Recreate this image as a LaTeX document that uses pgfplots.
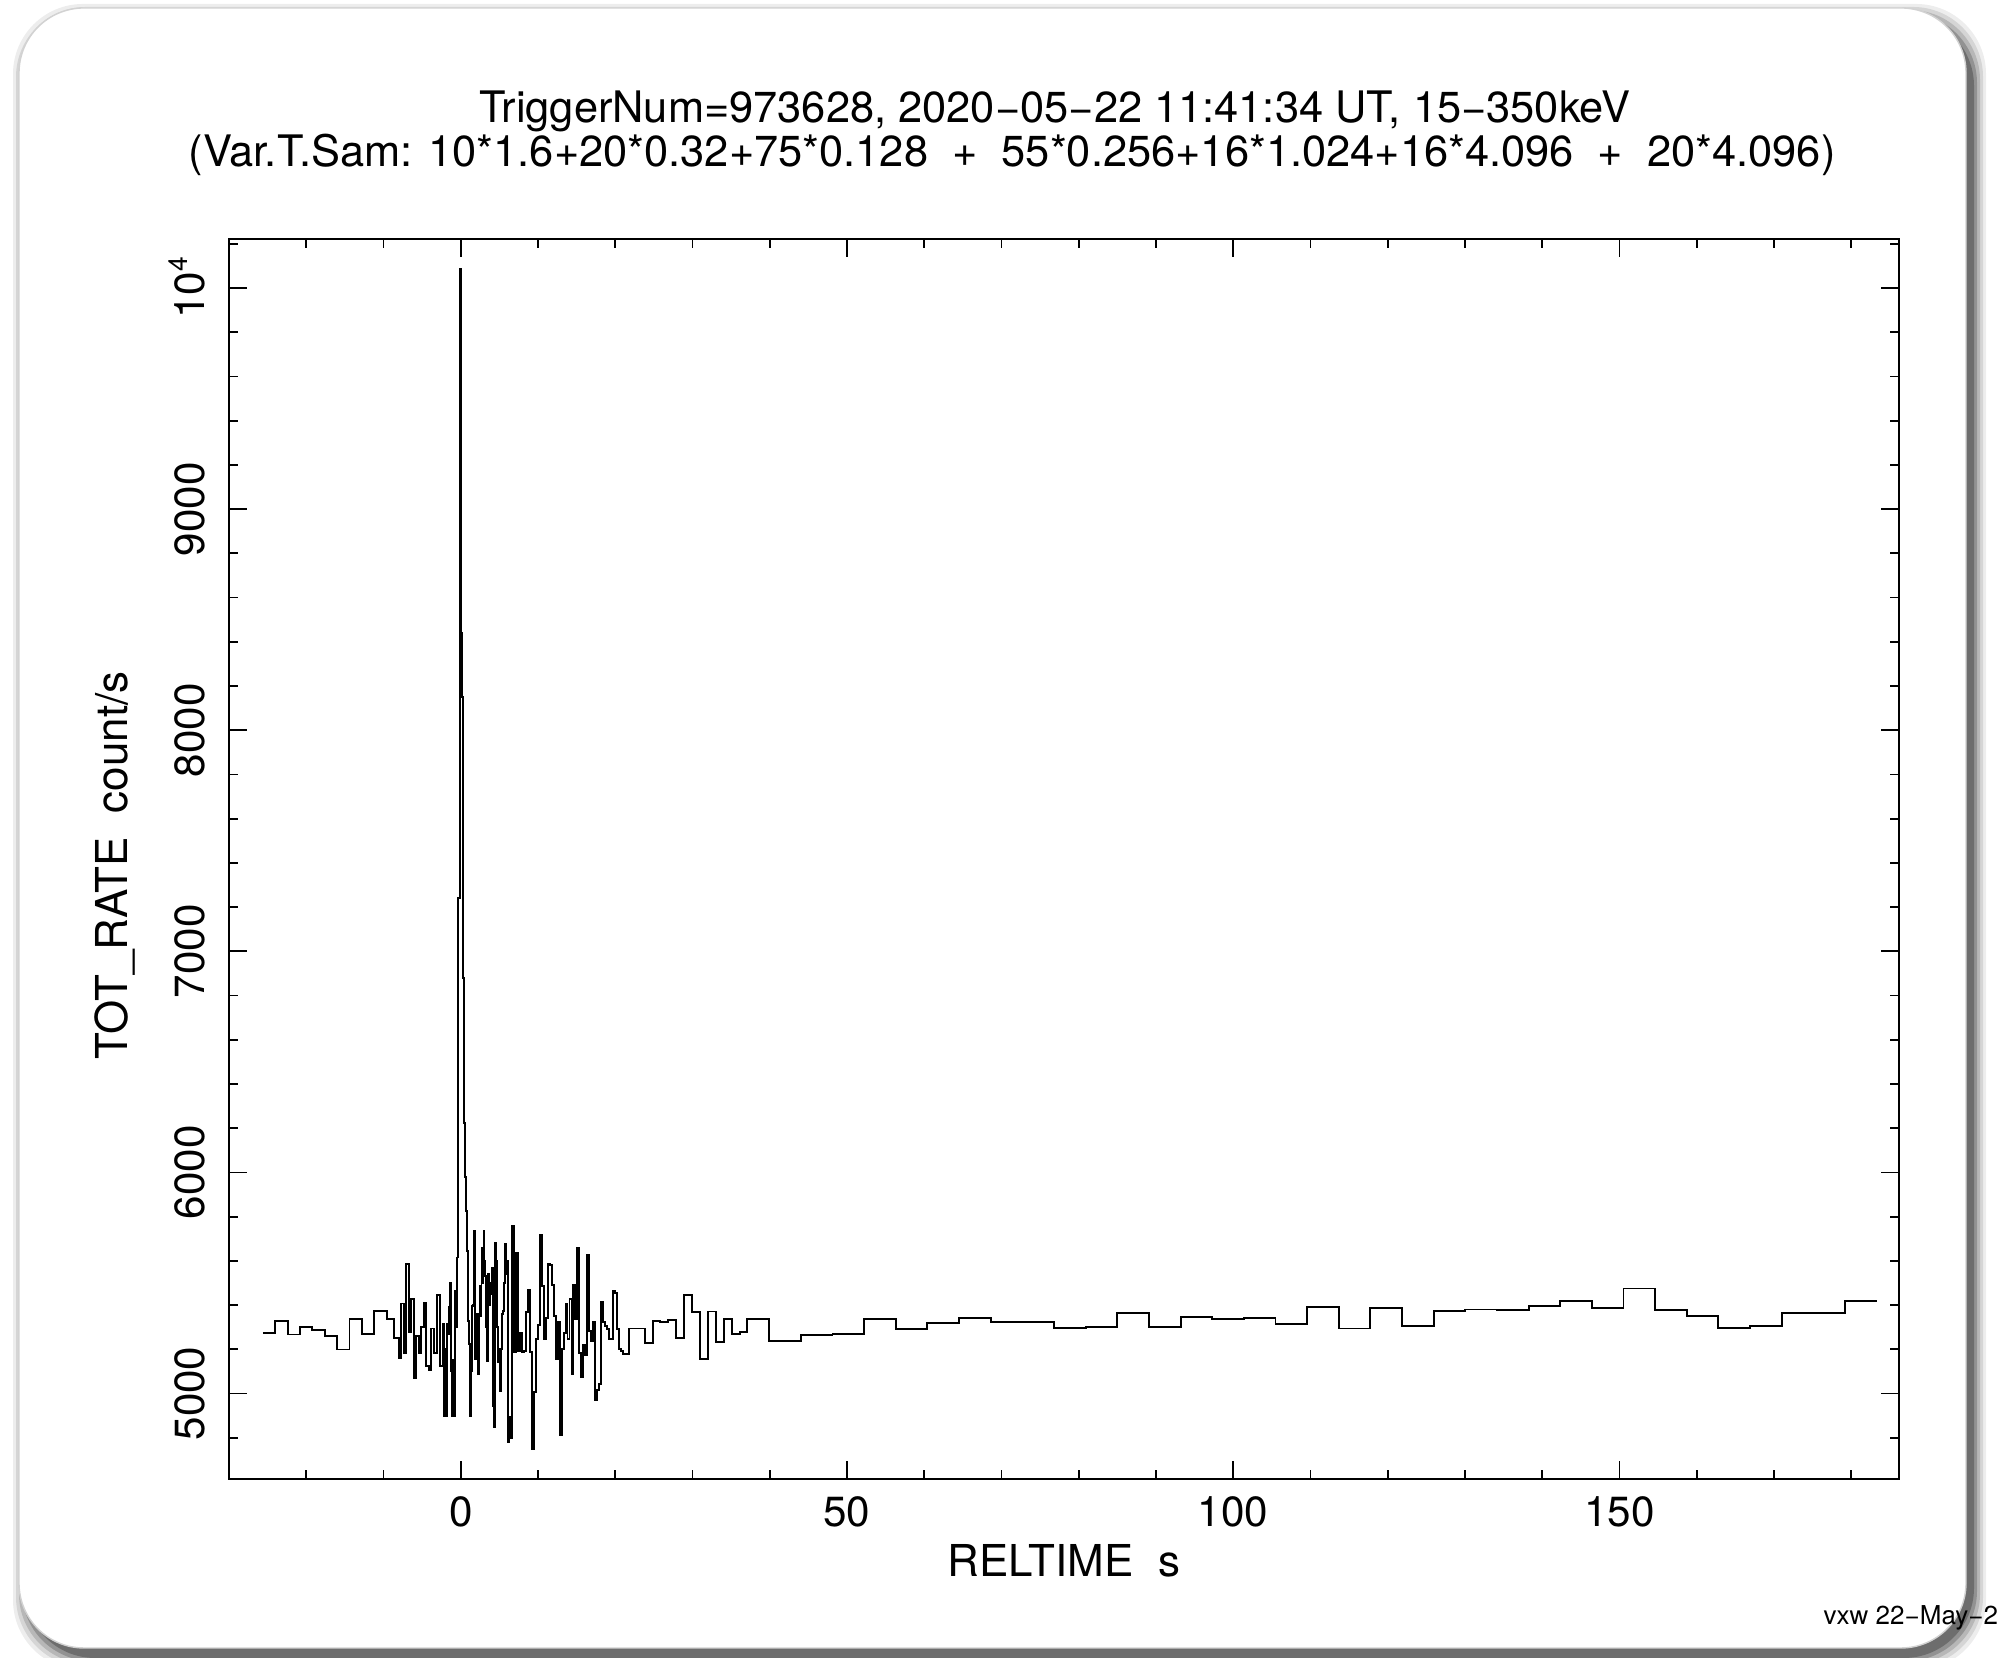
\documentclass[border=0pt]{standalone}
\usepackage{fontspec}
\setmainfont{TeX Gyre Heros}
\usepackage{pgfplots}
\pgfplotsset{compat=1.18}
\begin{document}
\begin{tikzpicture}
\path[use as bounding box] (0,0) rectangle (19.97cm,16.58cm);
% frame with soft shadow
\foreach \i/\op in {0.12/0.07,0.09/0.10,0.06/0.14,0.03/0.20,0.0/0.25}{
  \fill[black,opacity=\op,rounded corners=0.7cm] ({0.25cm-\i cm},{0.0cm-\i cm}) rectangle ({19.74cm+\i cm},{16.42cm+\i cm});
}
\filldraw[fill=white,draw=gray!35,line width=0.4pt,rounded corners=0.65cm] (0.19cm,0.10cm) rectangle (19.66cm,16.50cm);
\begin{axis}[
  at={(2.29cm,1.787cm)}, anchor=south west,
  width=16.70cm, height=12.403cm, scale only axis,
  xmin=-30, xmax=186.2, ymin=4612, ymax=10222,
  scaled x ticks=false, scaled y ticks=false,
  xtick={0,50,100,150}, xticklabels={0,50,100,150},
  minor xtick={-30,-20,...,180},
  ytick={5000,6000,7000,8000,9000,10000},
  yticklabels={5000,6000,7000,8000,9000,10\raisebox{0.42em}{\fontsize{7.5}{8}\selectfont 4}},
  minor ytick={4800,5000,...,10200},
  major tick length=0.18cm, minor tick length=0.092cm,
  tick align=inside,
  tick style={black,line width=0.5pt},
  axis line style={black,line width=0.6pt},
  xticklabel style={anchor=north,inner sep=0pt,yshift=-0.17cm,font=\fontsize{12}{14}\selectfont},
  yticklabel style={rotate=90,anchor=base,inner sep=0pt,yshift=0.24cm,font=\fontsize{12}{14}\selectfont},
  xlabel={RELTIME\ \ s},
  ylabel={TOT\_RATE\ \ count/s},
  xlabel style={at={(axis description cs:0.5,0)},anchor=base,yshift=-0.977cm,inner sep=0pt,font=\fontsize{12.5}{14}\selectfont},
  ylabel style={at={(axis description cs:0,0.495)},anchor=base,yshift=1.01cm,inner sep=0pt,font=\fontsize{12.5}{14}\selectfont},
]
\addplot[const plot, black, line width=0.55pt, line join=miter] coordinates {
(-25.6,5274) (-24.0,5327) (-22.4,5267) (-20.8,5299) (-19.2,5287) (-17.6,5262) (-16.0,5199) (-14.4,5335) (-12.8,5270) (-11.2,5374)
(-9.6,5338) (-9.28,5338) (-8.96,5338) (-8.64,5250) (-8.32,5250) (-8.0,5161) (-7.68,5407) (-7.36,5184) (-7.04,5585) (-6.72,5279)
(-6.4,5428) (-6.08,5071) (-5.76,5261) (-5.44,5181) (-5.12,5300) (-4.8,5410) (-4.48,5124) (-4.16,5104) (-3.84,5294) (-3.52,5181)
(-3.2,5183) (-3.072,5447) (-2.944,5447) (-2.816,5447) (-2.688,5126) (-2.56,5126) (-2.432,5126) (-2.304,5314) (-2.176,4900) (-2.048,5200)
(-1.92,4900) (-1.792,5314) (-1.664,5269) (-1.536,5393) (-1.408,5502) (-1.28,5100) (-1.152,4900) (-1.024,5150) (-0.896,4900) (-0.768,5465)
(-0.64,5300) (-0.512,5615) (-0.384,7240) (-0.256,7240) (-0.128,10085) (0,8440) (0.128,8150) (0.256,6880) (0.384,6225) (0.512,5980)
(0.64,5826) (0.768,5645) (0.896,5330) (1.024,5224) (1.152,4900) (1.28,5100) (1.408,5397) (1.536,5400) (1.664,5736) (1.792,5156)
(1.92,5359) (2.048,5359) (2.176,5088) (2.304,5088) (2.432,5487) (2.56,5350) (2.688,5660) (2.816,5500) (2.944,5736) (3.072,5600)
(3.2,5532) (3.328,5300) (3.456,5148) (3.584,5540) (3.712,5400) (3.84,5502) (3.968,5450) (4.096,5570) (4.224,4945) (4.352,4847)
(4.48,5683) (4.608,5600) (4.736,5300) (4.864,5141) (4.992,5200) (5.12,5013) (5.248,5200) (5.376,5359) (5.504,5374) (5.632,5500)
(5.76,5675) (5.888,5540) (6.016,5600) (6.144,4780) (6.272,4893)
(6.4,4800) (6.656,5758) (6.912,5186) (7.168,5635) (7.424,5194) (7.68,5273) (7.936,5189) (8.192,5194) (8.448,5367) (8.704,5468)
(8.96,5186) (9.216,4750) (9.472,5005) (9.728,5246) (9.984,5311) (10.24,5716) (10.496,5487) (10.752,5246) (11.008,5340) (11.264,5588)
(11.52,5580) (11.776,5490) (12.032,5352) (12.288,5156) (12.544,5322) (12.8,4810) (13.056,5201) (13.312,5273) (13.568,5404) (13.824,5246)
(14.08,5427) (14.336,5088) (14.592,5490) (14.848,5337) (15.104,5657) (15.36,5183) (15.616,5073) (15.872,5221) (16.128,5174) (16.384,5626)
(16.64,5281) (16.896,5239) (17.152,5322) (17.408,4972) (17.664,5016) (17.92,5043) (18.176,5416) (18.432,5322) (18.688,5307) (18.944,5292)
(19.2,5246) (19.456,5246) (19.712,5462) (19.968,5454) (20.224,5292) (20.48,5201) (20.736,5194) (20.992,5179) (21.248,5179) (21.504,5179)
(21.76,5294) (22.784,5294) (23.808,5228) (24.832,5328) (25.856,5322) (26.88,5332) (27.904,5249) (28.928,5444) (29.952,5367) (30.976,5156)
(32.0,5371) (33.024,5231) (34.048,5337) (35.072,5269) (36.096,5279) (37.12,5335)
(39.94,5239) (44.036,5264) (48.132,5270) (52.228,5335) (56.324,5291) (60.42,5320) (64.516,5343) (68.612,5325) (72.708,5325) (76.804,5297)
(80.9,5299) (84.996,5364) (89.092,5300) (93.188,5344) (97.284,5338) (101.38,5343) (105.476,5316) (109.572,5391) (113.668,5294) (117.764,5388)
(121.86,5307) (125.956,5373) (130.052,5380) (134.148,5379) (138.244,5394) (142.34,5419) (146.436,5386) (150.532,5475) (154.628,5377) (158.724,5349)
(162.82,5297) (166.916,5307) (171.012,5365) (175.108,5364) (179.204,5419) (183.3,5419)
};
\end{axis}
\node[anchor=base,inner sep=0pt,font=\fontsize{12.35}{14}\selectfont] at (10.548cm,15.353cm) {TriggerNum=973628, 2020−05−22 11:41:34 UT, 15−350keV};
\node[anchor=base,inner sep=0pt,font=\fontsize{12.35}{14}\selectfont] at (10.121cm,14.913cm) {(Var.T.Sam: 10*1.6+20*0.32+75*0.128\ \ +\ \ 55*0.256+16*1.024+16*4.096\ \ +\ \ 20*4.096)};
\node[anchor=base west,inner sep=0pt,font=\fontsize{7.4}{9}\selectfont] at (18.23cm,0.33cm) {vxw 22−May−2};
\end{tikzpicture}
\end{document}
